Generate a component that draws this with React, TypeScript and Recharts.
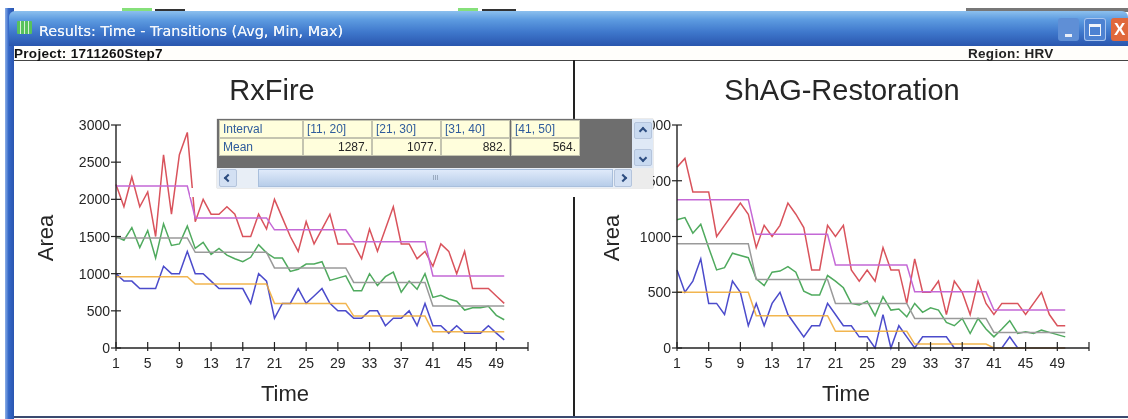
import { LineChart, Line, XAxis, YAxis } from "recharts";

const times = [1,2,3,4,5,6,7,8,9,10,11,12,13,14,15,16,17,18,19,20,21,22,23,24,25,26,27,28,29,30,31,32,33,34,35,36,37,38,39,40,41,42,43,44,45,46,47,48,49,50];
const xTicks = [1,5,9,13,17,21,25,29,33,37,41,45,49,53];

// RxFire
const rxMax = [2200,1900,2300,1900,2100,1500,2600,1800,2600,2900,1700,2000,1800,1800,1900,1800,1500,1500,1800,1600,2000,1750,1500,1300,1700,1400,1600,1800,1400,1400,1400,1200,1600,1300,1600,1900,1400,1400,1200,1300,1100,1400,1300,1000,1300,800,800,800,700,600];
const rxMaxAvg = [2180,2180,2180,2180,2180,2180,2180,2180,2180,2180,1750,1750,1750,1750,1750,1750,1750,1750,1750,1750,1590,1590,1590,1590,1590,1590,1590,1590,1590,1590,1430,1430,1430,1430,1430,1430,1430,1430,1430,1430,970,970,970,970,970,970,970,970,970,970];
const rxMean = [1500,1450,1620,1350,1580,1210,1670,1380,1400,1640,1340,1420,1260,1340,1250,1200,1160,1220,1390,1280,1210,1210,1030,1060,1130,1130,1160,910,940,970,770,770,1000,840,960,1020,750,900,790,1000,680,710,660,630,510,540,540,560,440,380];
const rxMeanAvg = [1480,1480,1480,1480,1480,1480,1480,1480,1480,1480,1287,1287,1287,1287,1287,1287,1287,1287,1287,1287,1077,1077,1077,1077,1077,1077,1077,1077,1077,1077,882,882,882,882,882,882,882,882,882,882,564,564,564,564,564,564,564,564,564,564];
const rxMin = [1000,900,900,800,800,800,1100,1000,1000,1300,1000,1000,900,800,800,800,800,600,1000,900,400,600,600,800,600,700,800,600,500,500,400,400,500,500,300,400,400,500,300,600,300,300,200,300,200,200,200,300,200,110];
const rxMinAvg = [960,960,960,960,960,960,960,960,960,960,860,860,860,860,860,860,860,860,860,860,600,600,600,600,600,600,600,600,600,600,430,430,430,430,430,430,430,430,430,430,220,220,220,220,220,220,220,220,220,220];

// ShAG-Restoration
const shMax = [1620,1700,1400,1400,1400,1000,1100,1200,1300,1200,900,1100,1000,1100,1300,1200,1080,700,700,1100,1000,1100,700,600,700,600,900,700,700,400,800,500,500,600,300,600,500,300,600,400,300,400,400,400,300,400,500,300,200,200];
const shMaxAvg = [1330,1330,1330,1330,1330,1330,1330,1330,1330,1330,1020,1020,1020,1020,1020,1020,1020,1020,1020,1020,745,745,745,745,745,745,745,745,745,745,505,505,505,505,505,505,505,505,505,505,340,340,340,340,340,340,340,340,340,340];
const shMean = [1150,1170,1030,1110,900,700,720,850,830,810,620,560,680,690,730,680,510,475,475,650,600,540,400,385,420,290,460,340,350,280,400,320,360,340,230,200,265,130,265,170,100,170,245,130,145,130,160,140,120,100];
const shMeanAvg = [935,935,935,935,935,935,935,935,935,935,615,615,615,615,615,615,615,615,615,615,400,400,400,400,400,400,400,400,400,400,265,265,265,265,265,265,265,265,265,265,140,140,140,140,140,140,140,140,140,140];
const shMin = [700,500,600,800,400,400,300,600,500,200,400,200,400,500,300,200,100,200,200,400,300,200,200,100,100,0,300,0,200,100,0,100,100,100,100,0,0,0,0,0,0,0,100,0,0,0,0,0,0,0];
const shMinAvg = [500,500,500,500,500,500,500,500,500,500,290,290,290,290,290,290,290,290,290,290,150,150,150,150,150,150,150,150,150,150,35,35,35,35,35,35,35,35,35,35,0,0,0,0,0,0,0,0,0,0];

const intervals = ["[11, 20]", "[21, 30]", "[31, 40]", "[41, 50]"];
const means = ["1287.", "1077.", "882.", "564."];

const FONT = "'Liberation Sans', Arial, sans-serif";
const INK = "#262626";

const XTick = ({ x, y, payload }: any) => (
  <g>
    <line x1={x} x2={x} y1={y - 6} y2={y + 3} stroke="#222" strokeWidth={1.2} />
    {payload.value !== 53 && (
      <text x={x} y={y + 20} textAnchor="middle" fontSize={14} fontFamily={FONT} fill={INK}>{payload.value}</text>
    )}
  </g>
);

const YTick = ({ x, y, payload }: any) => (
  <g>
    <line x1={x - 5} x2={x + 5} y1={y} y2={y} stroke="#222" strokeWidth={1.2} />
    <text x={x - 6} y={y + 5} textAnchor="end" fontSize={14} fontFamily={FONT} fill={INK}>{payload.value}</text>
  </g>
);

function Panel({ left, title, titleX, areaX, yMax, yTicks, series }: { left: number; title: string; titleX: number; areaX: number; yMax: number; yTicks: number[]; series: number[][] }) {
  const data = times.map((t, i) => ({
    t,
    max: series[0][i],
    maxAvg: series[1][i],
    mean: series[2][i],
    meanAvg: series[3][i],
    min: series[4][i],
    minAvg: series[5][i],
  }));
  return (
    <div style={{ position: "absolute", left, top: 62, width: 560, height: 352 }}>
      <LineChart width={560} height={352} data={data} margin={{ top: 63, right: 46, bottom: 36, left: 42 }}>
        <XAxis dataKey="t" type="number" domain={[1, 53]} ticks={xTicks} interval={0} height={30} tickSize={0} tickMargin={0} tickLine={false} tick={<XTick />} axisLine={{ stroke: "#222", strokeWidth: 1.4 }} />
        <YAxis type="number" domain={[0, yMax]} ticks={yTicks} interval={0} width={60} tickSize={0} tickMargin={0} tickLine={false} tick={<YTick />} axisLine={{ stroke: "#222", strokeWidth: 1.4 }} />
        <Line dataKey="max" stroke="#D9535C" strokeWidth={1.5} dot={false} isAnimationActive={false} />
        <Line dataKey="maxAvg" stroke="#C468D6" strokeWidth={1.5} dot={false} isAnimationActive={false} />
        <Line dataKey="mean" stroke="#4FAA5E" strokeWidth={1.5} dot={false} isAnimationActive={false} />
        <Line dataKey="meanAvg" stroke="#9A9A9A" strokeWidth={1.5} dot={false} isAnimationActive={false} />
        <Line dataKey="min" stroke="#4B4BCB" strokeWidth={1.5} dot={false} isAnimationActive={false} />
        <Line dataKey="minAvg" stroke="#F0A830" strokeWidth={1.5} strokeOpacity={0.85} dot={false} isAnimationActive={false} />
      </LineChart>
      <div style={{ position: "absolute", left: titleX, top: 12, transform: "translateX(-50%)", whiteSpace: "nowrap", fontFamily: FONT, fontSize: 29, color: INK }}>{title}</div>
      <div style={{ position: "absolute", left: 247, top: 319, fontFamily: FONT, fontSize: 22, color: INK }}>Time</div>
      <div style={{ position: "absolute", left: areaX, top: 176, fontFamily: FONT, fontSize: 22, color: INK, transform: "translate(-50%,-50%) rotate(-90deg)" }}>Area</div>
    </div>
  );
}

const cell: React.CSSProperties = { position: "absolute", background: "#FFFEDC", border: "1px solid #c4c4b0", boxSizing: "border-box", fontFamily: FONT, fontSize: 12, lineHeight: "16px", padding: "0 3px", whiteSpace: "nowrap" };
const scrollBtn: React.CSSProperties = { position: "absolute", background: "#d3e0f3", border: "1px solid #b4c4dc", boxSizing: "border-box", borderRadius: 2 };

// little chevron on a scroll button, drawn from two borders
const Chevron = ({ rotate }: { rotate: number }) => (
  <div style={{ position: "absolute", left: "50%", top: "50%", width: 6, height: 6, marginLeft: -3, marginTop: -3, borderTop: "2px solid #2d4d80", borderLeft: "2px solid #2d4d80", boxSizing: "border-box", transform: `rotate(${rotate}deg)` }} />
);

function Popup() {
  const colX = [303, 372, 441, 511];
  return (
    <div style={{ position: "absolute", left: 217, top: 119, width: 436, height: 69, background: "#6e6e6e", boxShadow: "0 0 1px #888" }}>
      <div style={{ ...cell, left: 2, top: 1, width: 84, height: 18, color: "#2F5C9C" }}>Interval</div>
      <div style={{ ...cell, left: 2, top: 19, width: 84, height: 18, color: "#2F5C9C" }}>Mean</div>
      {intervals.map((s, i) => (
        <div key={s} style={{ ...cell, left: colX[i] - 217, top: 1, width: 69, height: 18, color: "#2F5C9C" }}>{s}</div>
      ))}
      {means.map((s, i) => (
        <div key={s} style={{ ...cell, left: colX[i] - 217, top: 19, width: 69, height: 18, color: INK, textAlign: "right" }}>{s}</div>
      ))}
      {/* scrollbars */}
      <div style={{ position: "absolute", left: 0, top: 49, width: 415, height: 20, background: "#e8eef6" }} />
      <div style={{ ...scrollBtn, left: 2, top: 50, width: 18, height: 18 }}><Chevron rotate={-45} /></div>
      <div style={{ position: "absolute", left: 41, top: 50, width: 355, height: 18, background: "linear-gradient(#dfeafa,#b7cde9)", border: "1px solid #a9bfdc", boxSizing: "border-box", color: "#8a9ab0", fontFamily: FONT, fontSize: 8, textAlign: "center", lineHeight: "16px" }}>III</div>
      <div style={{ ...scrollBtn, left: 397, top: 50, width: 18, height: 18 }}><Chevron rotate={135} /></div>
      <div style={{ position: "absolute", left: 415, top: 0, width: 21, height: 49, background: "#dfe9f6" }} />
      <div style={{ position: "absolute", left: 415, top: 49, width: 21, height: 20, background: "#ececec" }} />
      <div style={{ ...scrollBtn, left: 417, top: 3, width: 18, height: 17, background: "#c9daf0" }}><Chevron rotate={45} /></div>
      <div style={{ ...scrollBtn, left: 417, top: 30, width: 18, height: 17, background: "#c9daf0" }}><Chevron rotate={225} /></div>
    </div>
  );
}

export default function App() {
  return (
    <div style={{ position: "absolute", left: 0, top: 0, width: 1128, height: 419, background: "#fff", overflow: "hidden", filter: "blur(0.4px)" }}>
      {/* bits of the window behind */}
      <div style={{ position: "absolute", left: 122, top: 8, width: 30, height: 4, background: "#86e07a" }} />
      <div style={{ position: "absolute", left: 155, top: 9, width: 30, height: 3, background: "#333" }} />
      <div style={{ position: "absolute", left: 458, top: 8, width: 20, height: 4, background: "#86e07a" }} />
      <div style={{ position: "absolute", left: 482, top: 9, width: 34, height: 3, background: "#333" }} />
      <div style={{ position: "absolute", left: 966, top: 8, width: 162, height: 4, background: "#777" }} />
      {/* window frame */}
      <div style={{ position: "absolute", left: 5, top: 8, width: 9, height: 411, background: "linear-gradient(90deg,#8db0e8,#3568c8 40%,#2a55b0)" }} />
      <div style={{ position: "absolute", left: 9, top: 11, width: 1119, height: 35, borderRadius: "6px 6px 0 0", background: "linear-gradient(#8cc0ee 0%,#5d9be0 25%,#3f78cc 60%,#2a56ae 100%)" }} />
      <div style={{ position: "absolute", left: 17, top: 21, width: 15, height: 13, background: "repeating-linear-gradient(90deg,#57c25c 0 3px,#d8f0d8 3px 4px)", borderRadius: 1 }} />
      <div style={{ position: "absolute", left: 39, top: 23, fontFamily: "'DejaVu Sans', sans-serif", fontSize: 14.4, color: "#f2f6fb", whiteSpace: "nowrap", textShadow: "0 0 0.6px #f2f6fb" }}>Results: Time - Transitions (Avg, Min, Max)</div>
      <div style={{ position: "absolute", left: 1058, top: 18, width: 21, height: 23, borderRadius: 3, background: "#5f8fd6" }} />
      <div style={{ position: "absolute", left: 1065, top: 34, width: 7, height: 3, background: "#e8eef8" }} />
      <div style={{ position: "absolute", left: 1084, top: 18, width: 22, height: 23, borderRadius: 3, background: "#4d82d2", boxShadow: "inset 0 0 0 1px #a8c4ee" }} />
      <div style={{ position: "absolute", left: 1089, top: 24, width: 12, height: 12, border: "1.5px solid #f0f4fa", borderTopWidth: 3, boxSizing: "border-box" }} />
      <div style={{ position: "absolute", left: 1111, top: 18, width: 17, height: 23, borderRadius: "3px 0 0 3px", background: "#e0683c", color: "#fff", fontFamily: FONT, fontSize: 17, fontWeight: 700, lineHeight: "23px", paddingLeft: 3, boxSizing: "border-box" }}>X</div>

      {/* project strip */}
      <div style={{ position: "absolute", left: 14, top: 46, width: 1114, height: 14, background: "#fffefb", borderBottom: "1.5px solid #444" }} />
      <div style={{ position: "absolute", left: 14, top: 46, fontFamily: FONT, fontWeight: 700, fontSize: 13.5, letterSpacing: 0.3, lineHeight: "15px", color: "#111", whiteSpace: "nowrap" }}>Project: 1711260Step7</div>
      <div style={{ position: "absolute", left: 968, top: 46, fontFamily: FONT, fontWeight: 700, fontSize: 13.5, letterSpacing: 0.3, lineHeight: "15px", color: "#222", whiteSpace: "nowrap" }}>Region: HRV</div>

      <Panel left={14} title="RxFire" titleX={258} areaX={32} yMax={3000} yTicks={[0, 500, 1000, 1500, 2000, 2500, 3000]} series={[rxMax, rxMaxAvg, rxMean, rxMeanAvg, rxMin, rxMinAvg]} />
      <Panel left={575} title="ShAG-Restoration" titleX={267} areaX={37} yMax={2000} yTicks={[0, 500, 1000, 1500, 2000]} series={[shMax, shMaxAvg, shMean, shMeanAvg, shMin, shMinAvg]} />

      {/* divider and bottom edge */}
      <div style={{ position: "absolute", left: 573, top: 60, width: 2, height: 357, background: "#222" }} />
      <div style={{ position: "absolute", left: 14, top: 416, width: 1114, height: 2, background: "#3a4a70" }} />

      {/* repaint gap under the popup */}
      <div style={{ position: "absolute", left: 190, top: 188, width: 430, height: 9, background: "#fff" }} />
      <Popup />
    </div>
  );
}
